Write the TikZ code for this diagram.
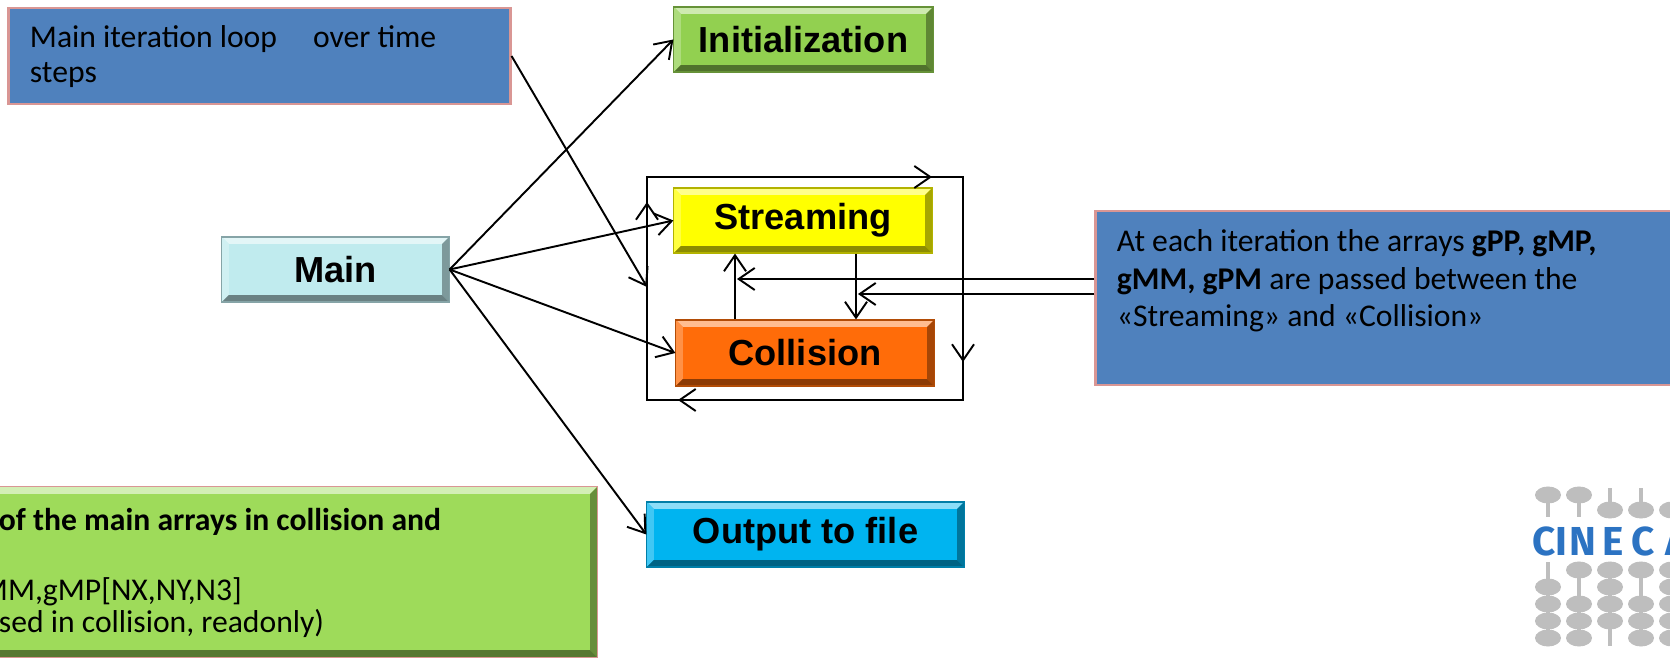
\documentclass[tikz,border=0pt]{standalone}
\usepackage{fontspec}
\setmainfont{Carlito}
\newfontfamily\headfont{Liberation Sans}
\newfontfamily\logofont{Fira Sans}
\usetikzlibrary{arrows.meta}

\definecolor{noteblue}{HTML}{4F81BD}
\definecolor{notepink}{HTML}{D99694}
\definecolor{initgreen}{HTML}{92D050}
\definecolor{maincyan}{HTML}{C0EBEE}
\definecolor{streamyellow}{HTML}{FFFF00}
\definecolor{collorange}{HTML}{FF6C09}
\definecolor{outblue}{HTML}{00B4F0}
\definecolor{arraygreen}{HTML}{9EDB5A}
\definecolor{logogray}{HTML}{BEBEBE}
\definecolor{logoblue}{HTML}{2C73C2}

\tikzset{
  bevel/.style={fill=#1, draw=#1!70!black, line width=0.3pt,
    path picture={
      \path (path picture bounding box.north west) coordinate (bvNW)
            (path picture bounding box.north east) coordinate (bvNE)
            (path picture bounding box.south east) coordinate (bvSE)
            (path picture bounding box.south west) coordinate (bvSW);
      \fill[#1!45!white] (bvNW) -- (bvNE) -- ([shift={(-0.7mm,-0.7mm)}]bvNE) -- ([shift={(0.7mm,-0.7mm)}]bvNW) -- cycle;
      \fill[#1!75!white] (bvNW) -- ([shift={(0.7mm,-0.7mm)}]bvNW) -- ([shift={(0.7mm,0.7mm)}]bvSW) -- (bvSW) -- cycle;
      \fill[#1!65!black] (bvNE) -- (bvSE) -- ([shift={(-0.7mm,0.7mm)}]bvSE) -- ([shift={(-0.7mm,-0.7mm)}]bvNE) -- cycle;
      \fill[#1!55!black] (bvSW) -- (bvSE) -- ([shift={(-0.7mm,0.7mm)}]bvSE) -- ([shift={(0.7mm,0.7mm)}]bvSW) -- cycle;
    }},
  box/.style={bevel=#1, minimum height=0.65cm, inner sep=0pt,
    font=\headfont\bfseries\fontsize{10.3}{12}\selectfont},
  note/.style={fill=noteblue, draw=notepink, line width=0.8pt, inner sep=0pt},
  notetext/.style={anchor=base west, align=left, inner sep=0pt,
    font=\fontsize{9}{10}\selectfont},
  logoletter/.style={anchor=base, inner sep=0pt, text=logoblue,
    font=\logofont\bfseries\fontsize{11.5}{12}\selectfont},
  arr/.style={-{Straight Barb[length=1.6mm,width=2.2mm]}}
}

\begin{document}
\begin{tikzpicture}[x=0.01cm, y=-0.01cm, line width=0.55pt]
  \useasboundingbox (0,0) rectangle (1670,661);

  % notes
  \node[note, minimum width=5.01cm, minimum height=0.96cm] (loopnote) at (259.5,56) {};
  \node[notetext] (looptext) at (29,83) {Main iteration loop\hspace{3.6mm}over time\\steps};

  \node[note, minimum width=6.1cm, minimum height=1.74cm] (passnote) at (1401,298) {};
  \node[notetext, font=\fontsize{9}{10.7}\selectfont] (passtext) at (1116,327)
    {At each iteration the arrays \textbf{gPP, gMP,}\\\textbf{gMM, gPM} are passed between the\\«Streaming» and «Collision»};

  \node[bevel=arraygreen, draw=notepink, inner sep=0pt, minimum width=6.2cm, minimum height=1.7cm] (arraynote) at (287,572) {};
  \node[notetext, font=\fontsize{9}{9}\selectfont] (arraytext) at (-2,632)
    {\textbf{of the main arrays in collision and}\\[0.38cm]\hspace*{-1.8mm}MM,gMP[NX,NY,N3]\\sed in collision, readonly)};

  % blocks
  \node[box=initgreen, minimum width=2.59cm] (init) at (803.5,39.5) {Initialization};
  \node[box=maincyan, minimum width=2.27cm] (main) at (335.5,269.5) {Main};
  \node[box=streamyellow, minimum width=2.58cm] (stream) at (803,220.5) {Streaming};
  \node[box=collorange, minimum width=2.58cm, minimum height=0.66cm] (coll) at (805,353) {Collision};
  \node[box=outblue, minimum width=3.17cm] (out) at (805.5,534.5) {Output to file};

  % time loop
  \coordinate (lpNW) at (647,177);
  \coordinate (lpSE) at (963,400);
  \coordinate (lpT) at (932,177);
  \coordinate (lpR) at (963,362);
  \coordinate (lpB0) at (901,400);
  \coordinate (lpB) at (678,400);
  \coordinate (lpL) at (647,202);
  \coordinate (lpIn) at (647,287);
  \draw (lpNW) rectangle (lpSE);
  \begin{scope}[arr]
    \draw (lpNW) -- (lpT);
    \draw (lpSE |- lpNW) -- (lpR);
    \draw (lpB0) -- (lpB);
    \draw (lpNW |- lpSE) -- (lpL);
  \end{scope}

  \draw[arr] (loopnote.east) -- (lpIn);

  \foreach \t in {init, stream, coll, out}
    \draw[arr] (main.east) -- (\t.west);

  % exchange between streaming and collision
  \coordinate (upx) at (735,0);
  \coordinate (downx) at (856,0);
  \coordinate (pass1) at (737,279);
  \coordinate (pass2) at (858,294);
  \draw[arr] (upx |- coll.north) -- (upx |- stream.south);
  \draw[arr] (downx |- stream.south) -- (downx |- coll.north);
  \draw[arr] (pass1 -| passnote.west) -- (pass1);
  \draw[arr] (pass2 -| passnote.west) -- (pass2);

  % logo
  \begin{scope}[logogray]
    \foreach \x in {1548,1579} {
      \fill (\x-2,495) rectangle (\x+2,517);
      \fill (\x,495) ellipse [x radius=0.13cm, y radius=0.085cm];
    }
    \foreach \x in {1610,1641,1672} {
      \fill (\x-2,488) rectangle (\x+2,510);
      \fill (\x,510) ellipse [x radius=0.13cm, y radius=0.085cm];
    }
    \foreach \x/\rows in {1548/{2,3,4,5}, 1579/{1,3,4,5}, 1610/{1,2,3,4}, 1641/{1,3,4,5}, 1672/{1,2,3,4,5}} {
      \fill (\x-2,562) rectangle (\x+2,646);
      \foreach \r in \rows
        \fill (\x,553+17*\r) ellipse [x radius=0.13cm, y radius=0.085cm];
    }
  \end{scope}
  \foreach \ch/\x [count=\i] in {C/1544.5, I/1561.5, N/1583, E/1613.5, C/1643, A/1677}
    \node[logoletter] (cin\i) at (\x,555) {\ch};
\end{tikzpicture}
\end{document}
